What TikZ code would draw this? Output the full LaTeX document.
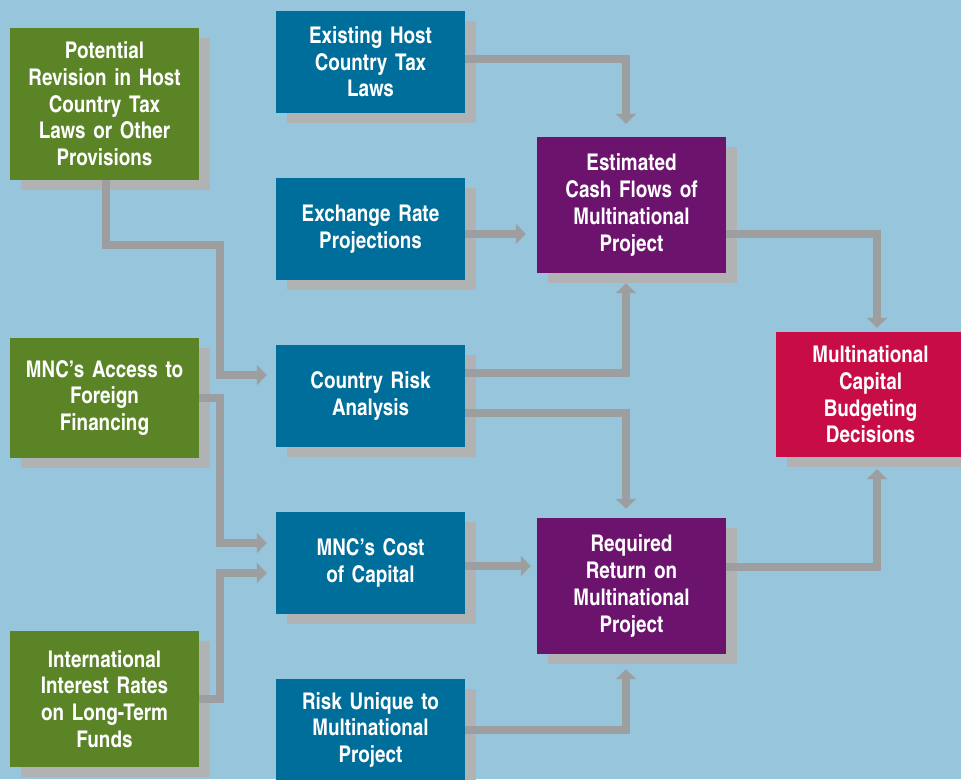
\documentclass[tikz,border=0pt]{standalone}
\usepackage{fontspec}
\setmainfont{texgyreheroscn}[Extension=.otf, UprightFont=*-regular, BoldFont=*-bold]
\usetikzlibrary{arrows.meta,calc,shadows}
\definecolor{bgc}{HTML}{97C6DC}
\definecolor{greenc}{HTML}{5B8427}
\definecolor{bluec}{HTML}{006E9A}
\definecolor{purplec}{HTML}{6C136E}
\definecolor{redc}{HTML}{C80C46}
\definecolor{shadowc}{HTML}{B1B2B4}
\definecolor{linec}{HTML}{9D9EA0}
\begin{document}
\begin{tikzpicture}[x=1pt,y=-1pt,
  box/.style={inner sep=0pt, text width=189pt, align=center, text=white,
    font=\fontsize{23}{26.7}\selectfont\bfseries,
    general shadow={fill=shadowc, shadow xshift=11pt, shadow yshift=-10pt}},
  gbox/.style={box, fill=greenc},
  bbox/.style={box, fill=bluec, minimum height=102pt},
  pbox/.style={box, fill=purplec, minimum height=136pt},
  rbox/.style={box, fill=redc},
  conn/.style={draw=linec, line width=8pt, line join=miter,
    -{Triangle[length=10pt,width=20pt]}}]
\useasboundingbox (0,0) rectangle (961,779);
\clip (0,0) rectangle (961,779);
\fill[bgc] (0,0) rectangle (961,779);

\node[gbox, minimum height=152pt] (pot) at (104.5,104) {Potential\\Revision in Host\\Country Tax\\Laws or Other\\Provisions};
\node[gbox, minimum height=120pt] (access) at (104.5,398) {MNC’s Access to\\Foreign\\Financing};
\node[gbox, minimum height=136pt] (intl) at (104.5,699) {International\\Interest Rates\\on Long-Term\\Funds};

\node[bbox] (exist) at (370.5,62) {Existing Host\\Country Tax\\Laws};
\node[bbox] (exch) at (370.5,229) {Exchange Rate\\Projections};
\node[bbox] (crisk) at (370.5,396) {Country Risk\\Analysis\\[8pt]};
\node[bbox] (cost) at (370.5,563) {MNC’s Cost\\of Capital\\[8pt]};
\node[bbox] (risk) at (370.5,730) {Risk Unique to\\Multinational\\Project};

\node[pbox] (est) at (631.5,205) {Estimated\\Cash Flows of\\Multinational\\Project};
\node[pbox] (req) at (631.5,586) {Required\\Return on\\Multinational\\Project};

\node[rbox, minimum height=125pt] (mcbd) at (870.5,394.5) {Multinational\\Capital\\Budgeting\\Decisions};

% connectors
\draw[conn] ([yshift=3pt]exist.east) -| ($(est.north)+(-5.5,-13)$);
\draw[conn] ([yshift=-5pt]exch.east) -- ($([yshift=-5pt]exch.east -| est.west)+(-11,0)$);
\draw[conn] ([yshift=23pt]crisk.east) -| ($(est.south)+(-5.5,10)$);
\draw[conn] ([yshift=-17pt]crisk.east) -| ($(req.north)+(-5.5,-9)$);
\draw[conn] ([yshift=-29pt]est.east) -| ($(mcbd.north)+(6.5,-4)$);
\draw[conn] ([yshift=19pt]req.east) -| ($(mcbd.south)+(6.5,12)$);
\draw[conn] ([yshift=-3pt]cost.east) -- ($([yshift=-3pt]cost.east -| req.west)+(-6,0)$);
\draw[conn] (risk.east) -| ($(req.south)+(-5.5,15)$);
\draw[conn] ([xshift=1.5pt]pot.south) |- ++(114,65) |- ($(crisk.west)+(-9,-21)$);
\draw[conn] (access.east) -- ++(21,0) |- ($(cost.west)+(-9,-20)$);
\draw[conn] (intl.east) -- ++(21,0) |- ($(cost.west)+(-9,10)$);
\end{tikzpicture}
\end{document}
